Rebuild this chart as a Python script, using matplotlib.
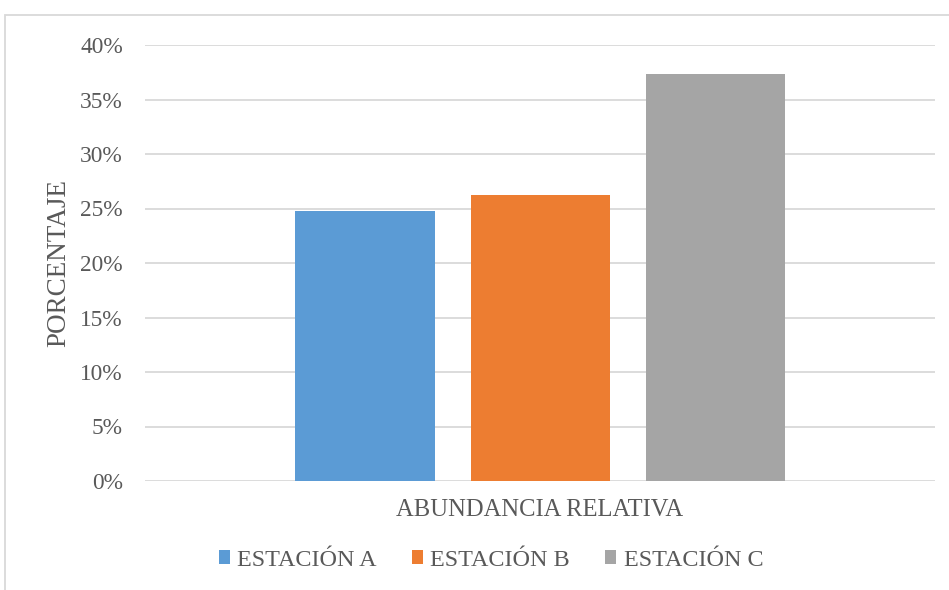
import matplotlib
matplotlib.use("Agg")
import matplotlib.pyplot as plt
from matplotlib.patches import Rectangle, Patch
from matplotlib.ticker import PercentFormatter

stations = ["ESTACIÓN A", "ESTACIÓN B", "ESTACIÓN C"]
values = [24.75, 26.2, 37.3]
colors = ["#5B9BD5", "#ED7D31", "#A5A5A5"]
category = "ABUNDANCIA RELATIVA"
y_ticks = [0, 5, 10, 15, 20, 25, 30, 35, 40]

plt.rcParams["font.family"] = ["Liberation Serif", "DejaVu Serif"]
text_color = "#595959"
grid_color = "#D9D9D9"

W, H = 949, 590
fig = plt.figure(figsize=(W / 100, H / 100), dpi=100)

# chart frame
fig.patches.append(Rectangle((5 / W, -0.1), 1.2, 1 - 15 / H + 0.1,
                             transform=fig.transFigure, fill=False,
                             edgecolor=grid_color, linewidth=1.3, zorder=0))

left, right, top, bottom = 145, 935, 45, 481
ax = fig.add_axes([left / W, 1 - bottom / H, (right - left) / W, (bottom - top) / H])

positions = [-1, 0, 1]
bar_w = 139 / 175
ax.bar(positions, values, width=bar_w, color=colors, zorder=3)

half = (right - left) / 2 / 175
ax.set_xlim(-half, half)
ax.set_ylim(0, 40)
ax.set_yticks(y_ticks)
ax.yaxis.set_major_formatter(PercentFormatter(decimals=0))
ax.set_xticks([])
ax.grid(axis="y", color=grid_color, linewidth=1.3, zorder=0)
for s in ax.spines.values():
    s.set_visible(False)
ax.tick_params(axis="y", length=0, pad=16, labelsize=16.8, labelcolor=text_color)

ax.set_xlabel(category, fontsize=17.7, color=text_color, labelpad=13)
ax.set_ylabel("PORCENTAJE", fontsize=19.5, color=text_color, labelpad=6.5)

handles = [Patch(facecolor=c, edgecolor="none") for c in colors]
fig.legend(handles, stations, loc="center", bbox_to_anchor=(491 / W, 1 - 560 / H),
           ncol=3, frameon=False, fontsize=17.4, labelcolor=text_color,
           handlelength=0.47, handleheight=0.47, handletextpad=0.3,
           columnspacing=1.45, borderaxespad=0)

fig.savefig("out.png", dpi=100)
